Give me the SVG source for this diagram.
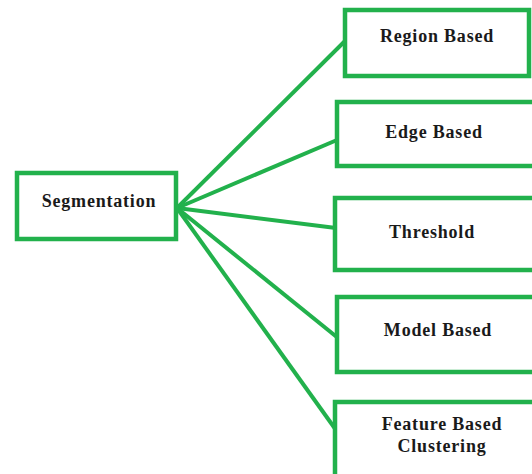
<svg xmlns="http://www.w3.org/2000/svg" width="532" height="474" viewBox="0 0 532 474">
<style>
.box{fill:#fff;stroke:#22b14c;stroke-width:4.5}
.ln{stroke:#22b14c;stroke-width:4;fill:none}
text{font-family:"Liberation Serif","Times New Roman",serif;font-weight:bold;font-size:18px;fill:#1a1a1a;text-anchor:middle;letter-spacing:0.8px}
</style>
<rect width="532" height="474" fill="#fff"/>
<g id="connectors">
<line class="ln" x1="177" y1="208" x2="346" y2="40"/>
<line class="ln" x1="177" y1="208" x2="337" y2="140"/>
<line class="ln" x1="177" y1="208" x2="336" y2="228"/>
<line class="ln" x1="177" y1="208" x2="338" y2="338"/>
<line class="ln" x1="177" y1="208" x2="336" y2="430"/>
</g>
<g id="segmentation">
<rect class="box" x="17" y="173" width="159" height="66"/>
<text x="99" y="207">Segmentation</text>
</g>
<g id="region">
<rect class="box" x="345" y="10" width="184" height="66"/>
<text x="437" y="42">Region Based</text>
</g>
<g id="edge">
<rect class="box" x="337" y="102" width="200" height="64"/>
<text x="434" y="138">Edge Based</text>
</g>
<g id="threshold">
<rect class="box" x="335" y="198" width="200" height="72"/>
<text x="432" y="238">Threshold</text>
</g>
<g id="model">
<rect class="box" x="337" y="297" width="200" height="75"/>
<text x="438" y="336">Model Based</text>
</g>
<g id="feature">
<rect class="box" x="335" y="402" width="200" height="80"/>
<text x="442" y="430">Feature Based</text>
<text x="442" y="452">Clustering</text>
</g>
</svg>
